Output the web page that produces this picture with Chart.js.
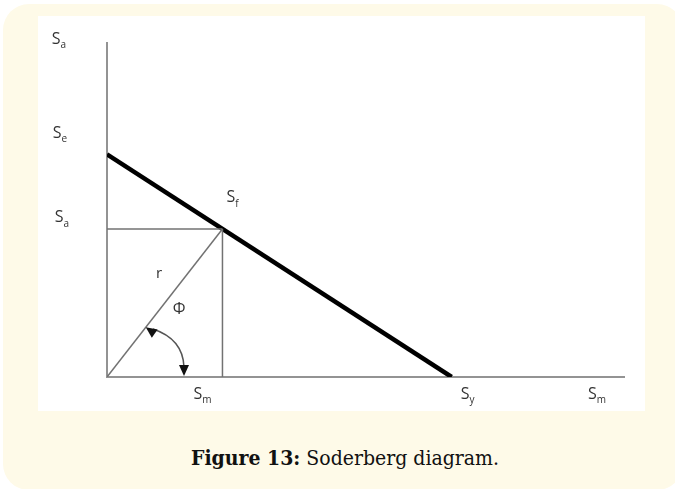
<!DOCTYPE html>
<html>
<head>
<meta charset="utf-8">
<script src="https://cdn.jsdelivr.net/npm/chart.js@4.4.1/dist/chart.umd.min.js"></script>
<style>
  html, body { margin: 0; padding: 0; background: #ffffff; }
  body { width: 675px; height: 489px; position: relative; overflow: hidden; }
  .card {
    position: absolute; left: 3px; top: 4px; width: 680px; height: 486px;
    background: #fefae8; border-radius: 26px;
  }
  .figura {
    position: absolute; left: 38px; top: 16px; width: 607px; height: 395px;
    background: #ffffff;
  }
  .caption {
    position: absolute; left: 0; top: 447px; width: 690px; text-align: center;
    font-family: "DejaVu Serif Condensed", "DejaVu Serif", serif; font-stretch: condensed;
    font-size: 21px; line-height: 21px; color: #111;
  }
</style>
</head>
<body>
<div class="card"></div>
<div class="figura"><canvas id="grafica" width="607" height="395"></canvas></div>
<div class="caption"><b>Figure 13:</b> Soderberg diagram.</div>

<script>
// Valores del diagrama (unidades de esfuerzo)
const Se = 10;      // limite de fatiga (corte con eje vertical)
const Sy = 10;      // limite de fluencia (corte con eje horizontal)
const SmPunto = 3.35;
const SaPunto = 6.65;
const ejeXMax = 15;
const ejeYMax = 15;

// Etiquetas de los ejes: [letra, subindice]
const yTickValores = [15, 10, 6.65];
const yTickEtiquetas = [['S', 'a'], ['S', 'e'], ['S', 'a']];
const xTickValores = [3.35, 10, 15];
const xTickEtiquetas = [['S', 'm'], ['S', 'y'], ['S', 'm']];

// Lineas del diagrama
const lineaSoderberg = [{x: 0, y: Se}, {x: Sy, y: 0}];
const lineaHorizontal = [{x: 0, y: SaPunto}, {x: SmPunto, y: SaPunto}];
const lineaVertical = [{x: SmPunto, y: SaPunto}, {x: SmPunto, y: 0}];
const lineaRadio = [{x: 0, y: 0}, {x: SmPunto, y: SaPunto}];

const FUENTE = '"Open Sans", "Liberation Sans", sans-serif';
const COLOR_TEXTO = '#333';

// Dibuja una S con subindice
function textoSub(ctx, partes, cx, cy) {
    ctx.font = '16px ' + FUENTE;
    const w1 = ctx.measureText(partes[0]).width;
    ctx.font = '10px ' + FUENTE;
    const w2 = ctx.measureText(partes[1]).width;
    const x0 = cx - (w1 + w2) / 2;
    ctx.textBaseline = 'middle';
    ctx.textAlign = 'left';
    ctx.font = '16px ' + FUENTE;
    ctx.fillText(partes[0], x0, cy);
    ctx.font = '10px ' + FUENTE;
    ctx.fillText(partes[1], x0 + w1, cy + 6);
}

function flecha(ctx, tx, ty, ang) {
    const largo = 11, ancho = 5;
    ctx.beginPath();
    ctx.moveTo(tx, ty);
    ctx.lineTo(tx - largo * Math.cos(ang) - ancho * Math.sin(ang),
               ty - largo * Math.sin(ang) + ancho * Math.cos(ang));
    ctx.lineTo(tx - largo * Math.cos(ang) + ancho * Math.sin(ang),
               ty - largo * Math.sin(ang) - ancho * Math.cos(ang));
    ctx.closePath();
    ctx.fill();
}

const pluginAnotaciones = {
    id: 'anotaciones',
    afterDatasetsDraw(chart) {
        const ctx = chart.ctx;
        const xs = chart.scales.x, ys = chart.scales.y;
        const area = chart.chartArea;
        ctx.save();
        ctx.fillStyle = COLOR_TEXTO;

        // etiquetas eje Y (a la izquierda, algo por encima del valor)
        const desplY = [-4, -21, -11];
        const desplYx = [-48, -47, -45];
        yTickValores.forEach((v, i) => {
            textoSub(ctx, yTickEtiquetas[i], area.left + desplYx[i], ys.getPixelForValue(v) + desplY[i]);
        });
        // etiquetas eje X (debajo)
        const desplX = [-20, 16, -27];
        xTickValores.forEach((v, i) => {
            textoSub(ctx, xTickEtiquetas[i], xs.getPixelForValue(v) + desplX[i], area.bottom + 17);
        });

        // punto Sf
        const px = xs.getPixelForValue(SmPunto), py = ys.getPixelForValue(SaPunto);
        textoSub(ctx, ['S', 'f'], px + 10, py - 31);

        // r y Phi
        const ox = xs.getPixelForValue(0), oy = ys.getPixelForValue(0);
        ctx.textAlign = 'center';
        ctx.textBaseline = 'middle';
        ctx.font = '15px ' + FUENTE;
        ctx.fillText('r', ox + 52, oy - 103);
        ctx.font = '16px ' + FUENTE;
        ctx.fillText('Φ', ox + 72, oy - 68);

        // arco del angulo con flechas
        ctx.strokeStyle = '#555';
        ctx.lineWidth = 1.5;
        ctx.beginPath();
        ctx.moveTo(ox + 46, oy - 48);
        ctx.quadraticCurveTo(ox + 76, oy - 38, ox + 77, oy - 10);
        ctx.stroke();
        ctx.fillStyle = '#111';
        const ux = px - ox, uy = py - oy, d = Math.hypot(ux, uy);
        flecha(ctx, ox + ux / d * 63, oy + uy / d * 63, Math.atan2(-6, -8.5));
        flecha(ctx, ox + 77, oy - 1, Math.PI / 2);
        ctx.restore();
    }
};

const estiloFino = {
    showLine: true, pointRadius: 0, borderColor: '#727272', borderWidth: 1.5
};

new Chart(document.getElementById('grafica'), {
    type: 'scatter',
    data: {
        datasets: [
            Object.assign({data: lineaHorizontal}, estiloFino),
            Object.assign({data: lineaVertical}, estiloFino),
            Object.assign({data: lineaRadio}, estiloFino),
            {data: lineaSoderberg, showLine: true, pointRadius: 0, borderColor: '#000', borderWidth: 4.5, borderCapStyle: 'butt'}
        ]
    },
    options: {
        responsive: false,
        animation: false,
        layout: { padding: { left: 69, top: 27, right: 21, bottom: 34 } },
        plugins: { legend: { display: false }, tooltip: { enabled: false } },
        scales: {
            x: {
                type: 'linear', min: 0, max: ejeXMax,
                grid: { display: false, drawTicks: false },
                border: { display: true, color: '#939393', width: 2 },
                ticks: { display: false }
            },
            y: {
                type: 'linear', min: 0, max: ejeYMax,
                grid: { display: false, drawTicks: false },
                border: { display: true, color: '#939393', width: 2 },
                ticks: { display: false }
            }
        }
    },
    plugins: [pluginAnotaciones]
});
</script>
</body>
</html>
